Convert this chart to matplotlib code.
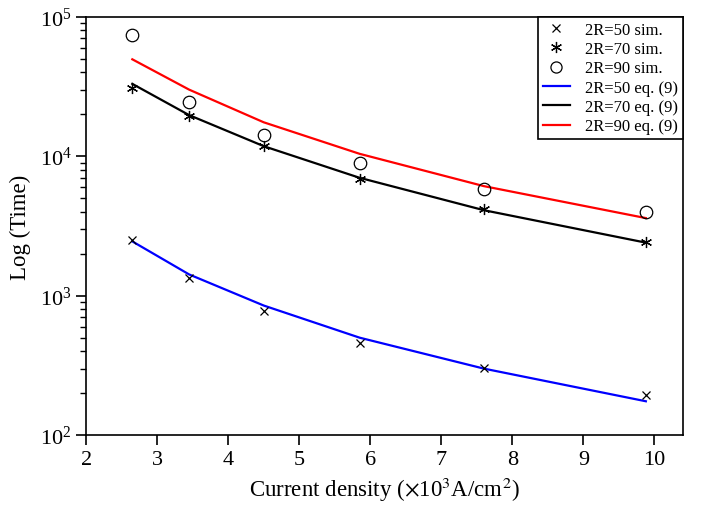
import matplotlib
matplotlib.use("Agg")
import matplotlib.pyplot as plt
from matplotlib.lines import Line2D

plt.rcParams['font.family'] = ['Liberation Serif', 'DejaVu Serif']
plt.rcParams['mathtext.fontset'] = 'stix'

# current density (x10^3 A/cm^2)
current = [2.65, 3.45, 4.5, 5.85, 7.6, 9.88]

# simulation points
sim_50 = [2500, 1350, 780, 460, 305, 195]
sim_70 = [31000, 19500, 11800, 6850, 4150, 2430]
sim_90 = [74000, 24500, 14200, 9000, 5800, 3950]

# eq. (9) curves
eq_50 = [2450, 1420, 850, 500, 300, 175]
eq_70 = [33000, 19700, 11800, 7000, 4100, 2400]
eq_90 = [49500, 30000, 17500, 10400, 6100, 3600]

fig = plt.figure(figsize=(7.12, 5.06), dpi=100)
ax = fig.add_axes([0.121, 0.138, 0.838, 0.827])

ax.plot(current, eq_50, color='#0000ff', lw=1.6)
ax.plot(current, eq_70, color='black', lw=1.6)
ax.plot(current, eq_90, color='#ff0000', lw=1.6)

ax.plot(current, sim_50, ls='none', marker='x', ms=6, mew=0.9, color='black')
ax.plot(current, sim_70, ls='none', marker=(6, 2, 0), ms=8, mew=0.9, color='black')
ax.plot(current, sim_90, ls='none', marker='o', ms=9, mew=0.9, mfc='none', color='black')

ax.set_yscale('log')
ax.set_xlim(2, 10.4)
ax.set_ylim(1e2, 1e5)
ax.set_xticks(range(2, 11))

ax.tick_params(axis='both', which='major', direction='out', length=7, width=1.2, labelsize=16,
               top=False, right=False)
ax.tick_params(axis='y', which='minor', direction='out', length=4, width=1.0, right=False)
for s in ax.spines.values():
    s.set_linewidth(1.2)

ax.set_xlabel(r'Current density ($\times$10$^3$A/cm$^2$)', fontsize=16.5, labelpad=4)
ax.set_ylabel('Log (Time)', fontsize=16.5, labelpad=6)

handles = [
    Line2D([], [], ls='none', marker='x', ms=6, mew=0.9, color='black'),
    Line2D([], [], ls='none', marker=(6, 2, 0), ms=8, mew=0.9, color='black'),
    Line2D([], [], ls='none', marker='o', ms=8, mew=0.9, mfc='none', color='black'),
    Line2D([], [], color='#0000ff', lw=1.6),
    Line2D([], [], color='black', lw=1.6),
    Line2D([], [], color='#ff0000', lw=1.6),
]
labels = ['2R=50 sim.', '2R=70 sim.', '2R=90 sim.',
          '2R=50 eq. (9)', '2R=70 eq. (9)', '2R=90 eq. (9)']
leg = ax.legend(handles, labels, loc='upper right', borderaxespad=0, fontsize=12,
                fancybox=False, edgecolor='black', framealpha=1,
                handlelength=1.6, handletextpad=0.9, labelspacing=0.2,
                borderpad=0.3)
leg.get_frame().set_linewidth(1.2)

fig.savefig('out.png', dpi=100)
